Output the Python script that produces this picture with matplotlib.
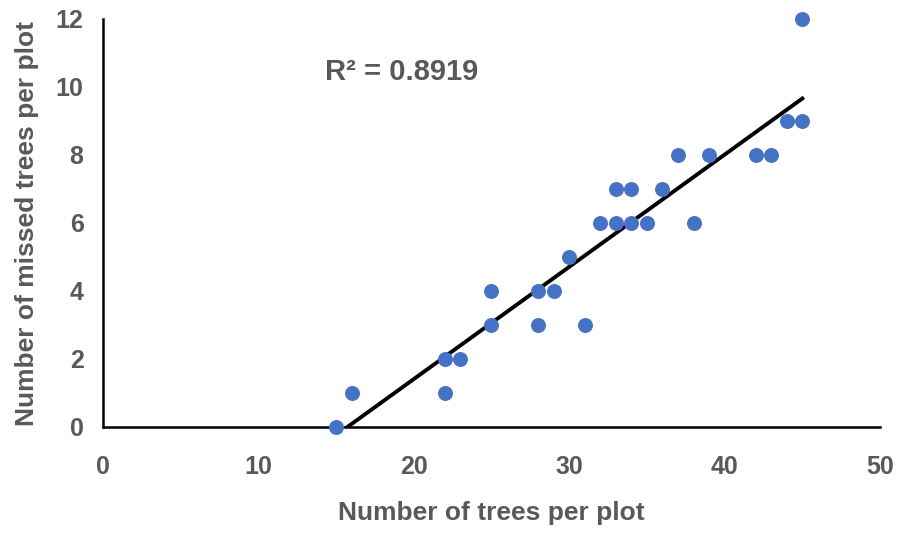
import numpy as np
import matplotlib.pyplot as plt
from matplotlib import font_manager

trees = [15, 16, 22, 22, 23, 25, 25, 28, 28, 29, 30, 31, 32, 33, 33, 34, 34,
         35, 36, 37, 38, 39, 42, 43, 44, 45, 45]
missed = [0, 1, 1, 2, 2, 3, 4, 3, 4, 4, 5, 3, 6, 7, 6, 7, 6,
          6, 7, 8, 6, 8, 8, 8, 9, 9, 12]
r2_text = "R² = 0.8919"

names = {f.name for f in font_manager.fontManager.ttflist}
fam = 'Liberation Sans Narrow' if 'Liberation Sans Narrow' in names else 'Liberation Sans'
plt.rcParams['font.family'] = [fam, 'DejaVu Sans']
gray = '#595959'

fig = plt.figure(figsize=(8.98, 5.33), dpi=100)
ax = fig.add_axes([103 / 898, 106 / 533, 777 / 898, 408 / 533])

ax.scatter(trees, missed, s=95, color='#4472C4', zorder=3, clip_on=False)

slope, icpt = np.polyfit(trees, missed, 1)
xs = np.array([min(trees), max(trees)])
ax.plot(xs, slope * xs + icpt, color='black', lw=2.8, zorder=2)

ax.text(14.3, 10.45, r2_text, fontsize=21, fontweight='bold', color=gray, va='center')

ax.set_xlim(0, 50)
ax.set_ylim(0, 12)
ax.set_xticks(range(0, 51, 10))
ax.set_yticks(range(0, 13, 2))
for s in ['top', 'right']:
    ax.spines[s].set_visible(False)
ax.spines['left'].set_linewidth(1.8)
ax.spines['bottom'].set_linewidth(1.8)
ax.tick_params(length=0, labelsize=18, labelcolor=gray)
ax.tick_params(axis='x', pad=20)
ax.tick_params(axis='y', pad=14)
for lab in ax.get_xticklabels() + ax.get_yticklabels():
    lab.set_fontweight('bold')
ax.set_xlabel('Number of trees per plot', fontsize=19, fontweight='bold', color=gray, labelpad=16)
ax.set_ylabel('Number of missed trees per plot', fontsize=19, fontweight='bold', color=gray, labelpad=12)

fig.savefig('out.png', dpi=100)
